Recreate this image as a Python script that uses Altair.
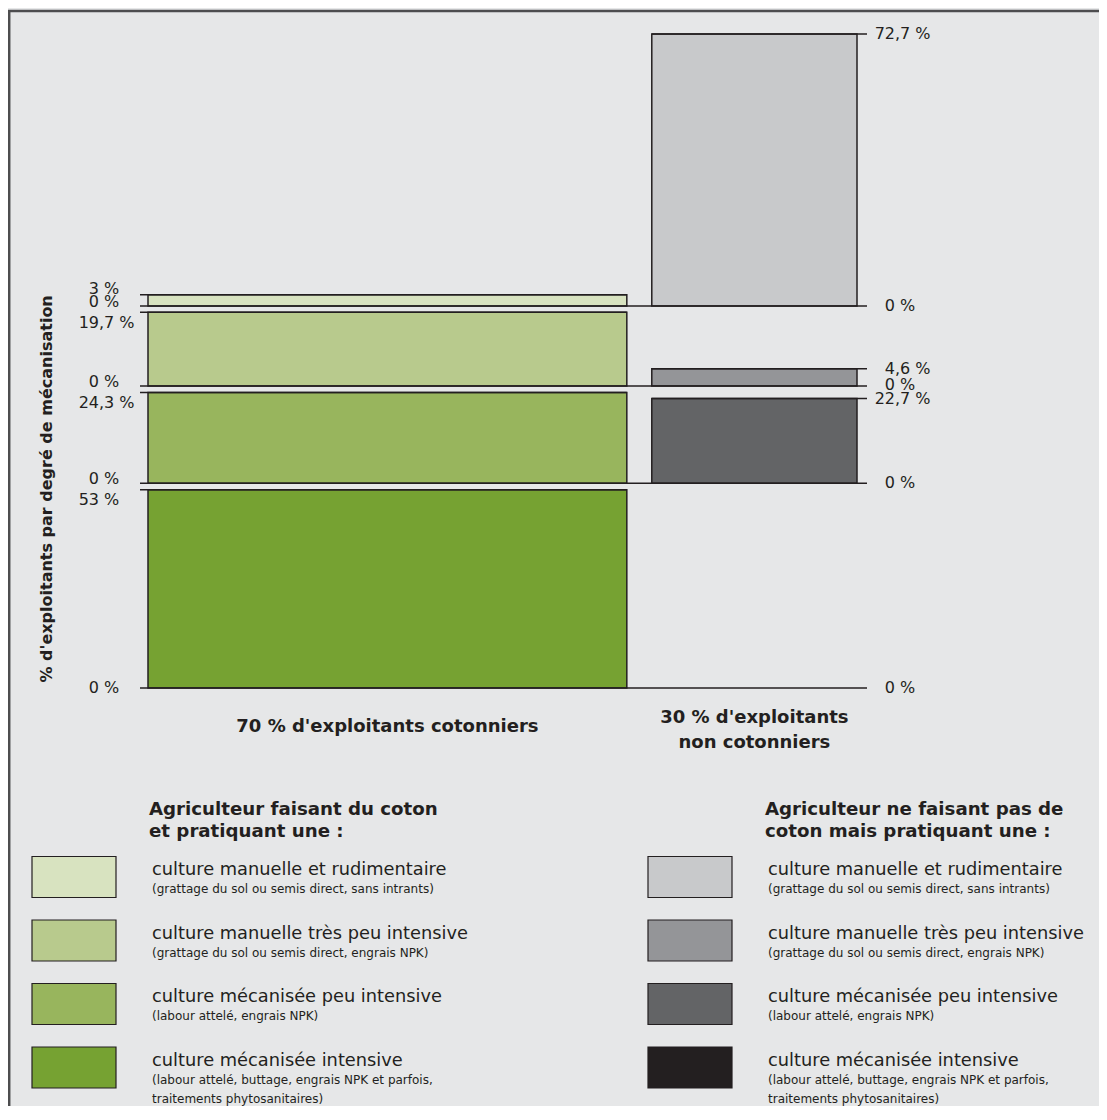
import altair as alt
import pandas as pd

# ---------------- data ----------------
categories = [
    "culture manuelle et rudimentaire",
    "culture manuelle très peu intensive",
    "culture mécanisée peu intensive",
    "culture mécanisée intensive",
]
details = [
    "(grattage du sol ou semis direct, sans intrants)",
    "(grattage du sol ou semis direct, engrais NPK)",
    "(labour attelé, engrais NPK)",
    "(labour attelé, buttage, engrais NPK et parfois,\ntraitements phytosanitaires)",
]
cotton_pct = [3.0, 19.7, 24.3, 53.0]
noncotton_pct = [72.7, 4.6, 22.7, 0.0]
group_share = [70, 30]
group_labels = ["70 % d'exploitants cotonniers", "30 % d'exploitants\nnon cotonniers"]
legend_titles = [
    "Agriculteur faisant du coton\net pratiquant une :",
    "Agriculteur ne faisant pas de\ncoton mais pratiquant une :",
]
y_title = "% d'exploitants par degré de mécanisation"
green_colors = ["#d8e3c0", "#b8ca8d", "#98b55d", "#76a232"]
gray_colors = ["#c8c9cb", "#949598", "#636466", "#231f20"]

# ---------------- layout ----------------
FONT = "DejaVu Sans"
INK = "#231f20"
ZWSP = "\u200b"
NBSP = "\u00a0"
W, H = 1091, 1098
GAP_Y = 1.7
GAP_X = 3.65
X_RANGE = [140, 849]
Y_RANGE = [680, 26]
TICK_FS = 16
MIN_SEP = 14  # px between stacked right-hand labels

order = [3, 2, 1, 0]  # bottom to top
base = {}
acc = 0.0
for i in order:
    base[i] = acc
    acc += max(cotton_pct[i], noncotton_pct[i]) + GAP_Y
ytop = base[0] + max(cotton_pct[0], noncotton_pct[0])
px_y = (Y_RANGE[0] - Y_RANGE[1]) / ytop
xmax = group_share[0] + GAP_X + group_share[1]
px_x = (X_RANGE[1] - X_RANGE[0]) / xmax

lx0, lx1 = 0, group_share[0]
rx0, rx1 = group_share[0] + GAP_X, xmax
ext_l = -8 / px_x
ext_r = xmax + 10 / px_x
col_l = (91 - X_RANGE[0]) / px_x
col_r = (887 - X_RANGE[0]) / px_x

XS = alt.Scale(domain=[0, xmax], range=X_RANGE, nice=False, zero=False)
YS = alt.Scale(domain=[0, ytop], range=Y_RANGE, nice=False, zero=False)


def split_label(v):
    s = f"{v:g}".replace(".", ",")
    if "," in s:
        a, b = s.split(",")
        return a, "," + b + NBSP + "%"
    return s, ZWSP + NBSP + "%"


bars, rules, labels, right_labels = [], [], [], []
for i in range(4):
    b = base[i]
    bars.append(dict(key=f"c{i}", x0=lx0, x1=lx1, y0=b, y1=b + cotton_pct[i]))
    if noncotton_pct[i] > 0:
        bars.append(dict(key=f"n{i}", x0=rx0, x1=rx1, y0=b, y1=b + noncotton_pct[i]))
    rules.append(dict(x0=ext_l, x1=ext_r, y=b))
    rules.append(dict(x0=ext_l, x1=lx1, y=b + cotton_pct[i]))
    if noncotton_pct[i] > 0:
        rules.append(dict(x0=rx0, x1=ext_r, y=b + noncotton_pct[i]))
    ip, rest = split_label(cotton_pct[i])
    labels.append(dict(x=col_l, y=b + cotton_pct[i], ip=ip, rest=rest,
                       pos="top" if cotton_pct[i] >= 5 else "over"))
    ip, rest = split_label(0)
    labels.append(dict(x=col_l, y=b, ip=ip, rest=rest,
                       pos="mid" if i == order[0] else "above"))
    if noncotton_pct[i] > 0:
        ip, rest = split_label(noncotton_pct[i])
        right_labels.append(dict(x=col_r, y=b + noncotton_pct[i], ip=ip, rest=rest, pos="mid"))
    ip, rest = split_label(0)
    right_labels.append(dict(x=col_r, y=b, ip=ip, rest=rest, pos="mid"))

# push apart right-hand labels that would collide
right_labels.sort(key=lambda d: d["y"])
for k in range(len(right_labels) - 1):
    lo, hi = right_labels[k], right_labels[k + 1]
    sep = (hi["y"] - lo["y"]) * px_y
    if sep < MIN_SEP:
        shift = (MIN_SEP - sep) / 2 / px_y
        lo["y"] -= shift
        hi["y"] += shift
labels += right_labels

bars_df = pd.DataFrame(bars)
rules_df = pd.DataFrame(rules)
labels_df = pd.DataFrame(labels)

fill_domain = [f"c{i}" for i in range(4)] + [f"n{i}" for i in range(4)]
fill_range = green_colors + gray_colors

bar_layer = alt.Chart(bars_df).mark_rect(stroke=INK, strokeWidth=1.5).encode(
    x=alt.X("x0:Q", scale=XS, axis=None),
    x2="x1:Q",
    y=alt.Y("y0:Q", scale=YS, axis=None),
    y2="y1:Q",
    fill=alt.Fill("key:N", scale=alt.Scale(domain=fill_domain, range=fill_range), legend=None),
)

rule_layer = alt.Chart(rules_df).mark_rule(stroke=INK, strokeWidth=1.5).encode(
    x=alt.X("x0:Q", scale=XS, axis=None),
    x2="x1:Q",
    y=alt.Y("y:Q", scale=YS, axis=None),
)

label_layers = []
for pos, bl, dy in [("top", "top", 2.5), ("over", "alphabetic", -0.5),
                    ("above", "alphabetic", 1), ("mid", "middle", 0)]:
    for part, al in [("ip", "right"), ("rest", "left")]:
        label_layers.append(
            alt.Chart(labels_df).transform_filter(alt.datum.pos == pos)
            .mark_text(align=al, baseline=bl, dy=dy, font=FONT, fontSize=TICK_FS, color=INK)
            .encode(
                x=alt.X("x:Q", scale=XS, axis=None),
                y=alt.Y("y:Q", scale=YS, axis=None),
                text=f"{part}:N",
            )
        )

ytitle_df = pd.DataFrame([dict(x=(39 - X_RANGE[0]) / px_x,
                               y=(base[0] + cotton_pct[0]) / 2 + 2.5 / px_y, t=y_title)])
ytitle_layer = alt.Chart(ytitle_df).mark_text(
    angle=270, align="center", baseline="middle", font=FONT, fontSize=16,
    fontWeight="bold", color=INK
).encode(
    x=alt.X("x:Q", scale=XS, axis=None),
    y=alt.Y("y:Q", scale=YS, axis=None),
    text="t:N",
)

glab_df = pd.DataFrame([
    dict(x=(lx0 + lx1) / 2, y=-39 / px_y, t=group_labels[0]),
    dict(x=(rx0 + rx1) / 2, y=-30 / px_y, t=group_labels[1]),
])
glab_layer = alt.Chart(glab_df).mark_text(
    align="center", baseline="middle", font=FONT, fontSize=18, fontWeight="bold",
    color=INK, lineBreak="\n", lineHeight=25
).encode(
    x=alt.X("x:Q", scale=XS, axis=None),
    y=alt.Y("y:Q", scale=YS, axis=None),
    text="t:N",
)

mosaic = alt.layer(bar_layer, rule_layer, *label_layers, ytitle_layer, glab_layer)

# ---------------- legend ----------------
COLW = 616.0
ROWH = 63.5
LXS = alt.Scale(domain=[0, 1], range=[24, 640], nice=False, zero=False)
LYS = alt.Scale(domain=[0, 3], range=[869, 1059.5], nice=False, zero=False)

leg = []
for c, cols in enumerate([green_colors, gray_colors]):
    for r in range(4):
        leg.append(dict(key=f"{'cn'[c]}{r}", x0=c, x1=c + 84 / COLW,
                        y0=r - 20.5 / ROWH, y1=r + 20.5 / ROWH,
                        tx=c + 120 / COLW, ty=r - 7 / ROWH,
                        sy=r + (13 - 0.49 * 12) / ROWH,
                        cat=categories[r], det=details[r]))
leg_df = pd.DataFrame(leg)
ltitle_df = pd.DataFrame([dict(x=c + 117 / COLW, y=-67 / ROWH, t=legend_titles[c]) for c in range(2)])

leg_rect = alt.Chart(leg_df).mark_rect(stroke=INK, strokeWidth=1.2).encode(
    x=alt.X("x0:Q", scale=LXS, axis=None),
    x2="x1:Q",
    y=alt.Y("y0:Q", scale=LYS, axis=None),
    y2="y1:Q",
    fill=alt.Fill("key:N", scale=alt.Scale(domain=fill_domain, range=fill_range), legend=None),
)
leg_main = alt.Chart(leg_df).mark_text(
    align="left", baseline="middle", font=FONT, fontSize=17.8, color=INK
).encode(
    x=alt.X("tx:Q", scale=LXS, axis=None),
    y=alt.Y("ty:Q", scale=LYS, axis=None),
    text="cat:N",
)
leg_sub = alt.Chart(leg_df).mark_text(
    align="left", baseline="top", font=FONT, fontSize=12, color=INK,
    lineBreak="\n", lineHeight=19
).encode(
    x=alt.X("tx:Q", scale=LXS, axis=None),
    y=alt.Y("sy:Q", scale=LYS, axis=None),
    text="det:N",
)
leg_title = alt.Chart(ltitle_df).mark_text(
    align="left", baseline="middle", font=FONT, fontSize=18.2, fontWeight="bold",
    color=INK, lineBreak="\n", lineHeight=22
).encode(
    x=alt.X("x:Q", scale=LXS, axis=None),
    y=alt.Y("y:Q", scale=LYS, axis=None),
    text="t:N",
)
legend = alt.layer(leg_rect, leg_main, leg_sub, leg_title)

# ---------------- frame ----------------
one = pd.DataFrame({"a": [0]})
frame_top = alt.Chart(one).mark_rule(stroke="#4d4d4f", strokeWidth=2.5).encode(
    x=alt.value(0), x2=alt.value(W), y=alt.value(3)
)
frame_left = alt.Chart(one).mark_rule(stroke="#4d4d4f", strokeWidth=2.5).encode(
    x=alt.value(1.2), y=alt.value(2), y2=alt.value(H)
)
frame = alt.layer(frame_top, frame_left)

chart = (
    alt.layer(mosaic, legend, frame)
    .resolve_scale(x="independent", y="independent", fill="independent")
    .properties(width=W, height=H, padding=0, background="#e6e7e8",
                autosize=alt.AutoSizeParams(type="none"))
    .configure_view(stroke=None)
)

chart.save("out.html", embed_options={"renderer": "svg", "actions": False})
